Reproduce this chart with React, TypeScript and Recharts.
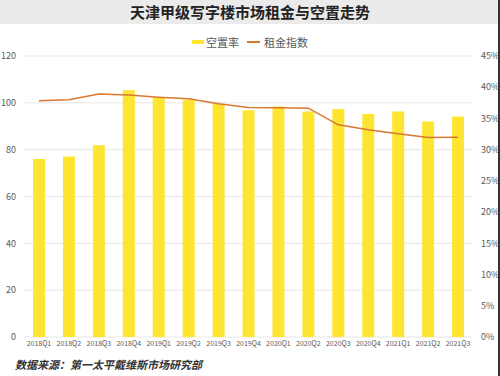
import React from 'react';
import { ComposedChart, Bar, Line, XAxis, YAxis, CartesianGrid } from 'recharts';

const categories = ['2018Q1','2018Q2','2018Q3','2018Q4','2019Q1','2019Q2','2019Q3','2019Q4','2020Q1','2020Q2','2020Q3','2020Q4','2021Q1','2021Q2','2021Q3'];
const vacancyRate = [28.5, 28.9, 30.7, 39.5, 38.4, 38.0, 37.3, 36.3, 36.9, 36.1, 36.5, 35.7, 36.1, 34.5, 35.3];
const rentIndex = [100.9, 101.3, 103.8, 103.3, 102.4, 101.7, 99.6, 98.0, 97.9, 97.7, 90.6, 88.5, 86.8, 85.2, 85.3];
const leftTicks = [0, 20, 40, 60, 80, 100, 120];
const rightTicks = [0, 5, 10, 15, 20, 25, 30, 35, 40, 45];

const data = categories.map((c, i) => ({ name: c, vacancy: vacancyRate[i], rent: rentIndex[i] }));

const FONT = '"Noto Sans CJK SC", "Noto Sans", Arial, sans-serif';

export default function App() {
  return (
    <div style={{ position: 'absolute', left: 0, top: 0, width: 500, height: 376, background: '#fff', fontFamily: FONT, overflow: 'hidden' }}>
      <div style={{ position: 'absolute', left: 0, top: 0, width: 500, height: 24, background: '#ebebeb' }} />
      <div style={{ position: 'absolute', left: 0, top: 0, width: 500, height: 24, lineHeight: '24px', textAlign: 'center', fontSize: 15, fontWeight: 700, color: '#222' }}>
        天津甲级写字楼市场租金与空置走势
      </div>
      <div style={{ position: 'absolute', left: 0, top: 33, width: 500, height: 18, display: 'flex', justifyContent: 'center', alignItems: 'center', fontSize: 11, color: '#595959' }}>
        <span style={{ display: 'inline-block', width: 12, height: 4, background: '#FDE532', marginRight: 2 }} />
        <span style={{ marginRight: 8 }}>空置率</span>
        <span style={{ display: 'inline-block', width: 13, height: 2, background: '#D8782F', marginRight: 4 }} />
        <span>租金指数</span>
      </div>
      <div style={{ position: 'absolute', left: 0, top: 0 }}>
        <ComposedChart width={500} height={376} data={data} margin={{ top: 56, right: 0, bottom: 19, left: 0 }}>
          <CartesianGrid vertical={false} stroke="#e6e6e6" yAxisId="left" />
          <XAxis dataKey="name" axisLine={false} tickLine={false} tickSize={4} tickMargin={0} tick={{ fontSize: 7, fill: '#595959' }} interval={0} height={20} />
          <YAxis yAxisId="left" orientation="left" domain={[0, 120]} ticks={leftTicks} width={24} axisLine={false} tickLine={false} tick={{ fontSize: 9, fill: '#595959' }} />
          <YAxis yAxisId="right" orientation="right" domain={[0, 45]} ticks={rightTicks} width={27} axisLine={false} tickLine={false} tick={{ fontSize: 9, fill: '#595959' }} tickFormatter={(v) => `${v}%`} />
          <Bar yAxisId="right" dataKey="vacancy" fill="#FDE532" barSize={12} isAnimationActive={false} />
          <Line yAxisId="left" dataKey="rent" type="linear" stroke="#D8782F" strokeWidth={1.5} dot={false} isAnimationActive={false} />
        </ComposedChart>
      </div>
      <div style={{ position: 'absolute', left: 15, top: 357, height: 14, lineHeight: '14px', fontSize: 11, fontWeight: 700, fontStyle: 'italic', color: '#333', whiteSpace: 'nowrap' }}>
        数据来源：第一太平戴维斯市场研究部
      </div>
      <div style={{ position: 'absolute', left: 498, top: 0, width: 2, height: 376, background: '#333' }} />
    </div>
  );
}
